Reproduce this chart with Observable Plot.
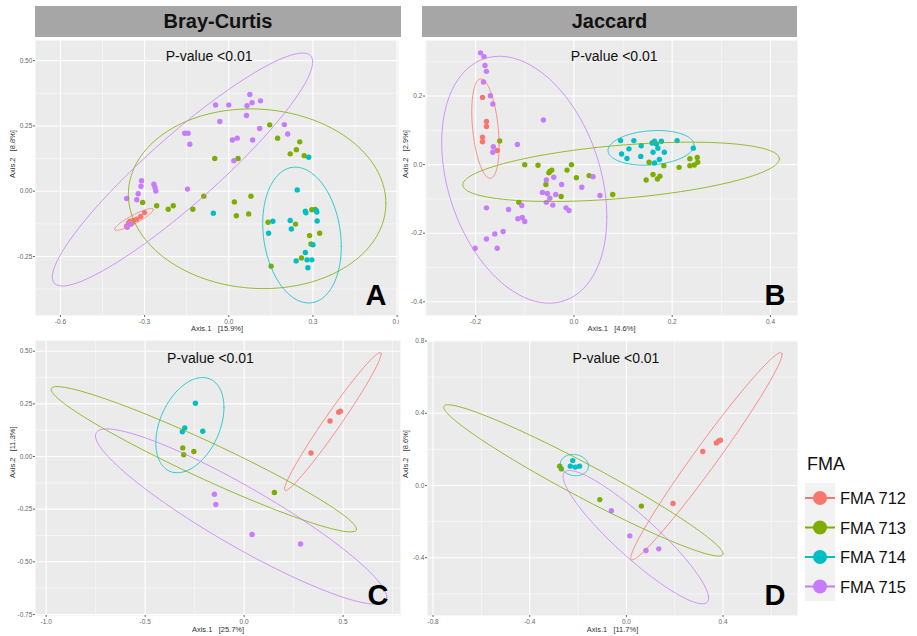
<!DOCTYPE html>
<html><head><meta charset="utf-8">
<script src="https://cdn.jsdelivr.net/npm/d3@7"></script>
<script src="https://cdn.jsdelivr.net/npm/@observablehq/plot@0.6"></script>
<style>
body{margin:0;background:#fff;font-family:"Liberation Sans",Arial,sans-serif;}
#root{position:relative;width:917px;height:636px;overflow:hidden;background:#fff;}
.pane{position:absolute;overflow:hidden;background:#fff;}
.strip{position:absolute;background:#A6A6A6;color:#111;font-weight:bold;font-size:20px;text-align:center;line-height:31px;height:31px;}
.lg{position:absolute;white-space:nowrap;color:#111;}
</style></head><body><div id="root"></div>
<script>
// ---------- categories ----------
const groups = ["FMA 712", "FMA 713", "FMA 714", "FMA 715"];
const colors = ["#F8766D", "#7CAE00", "#00BFC4", "#C77CFF"];
const stripTitles = ["Bray-Curtis", "Jaccard"];
const panelLetters = ["A", "B", "C", "D"];
const pText = "P-value <0.01";
const xTitles = ["Axis.1   [15.9%]", "Axis.1   [4.6%]", "Axis.1   [25.7%]", "Axis.1   [11.7%]"];
const yTitles = ["Axis.2   [8.8%]", "Axis.2   [2.9%]", "Axis.2   [11.3%]", "Axis.2   [8.6%]"];

// ---------- Panel A (Bray-Curtis, top) ----------
const a712 = [[-0.300,-0.082],[-0.314,-0.097],[-0.328,-0.107],[-0.340,-0.112],[-0.352,-0.115],[-0.344,-0.120],[-0.357,-0.122],[-0.364,-0.133]];
const a713 = [[0.146,0.254],[0.174,0.203],[0.253,0.189],[0.219,0.143],[0.241,0.159],[0.269,0.136],[-0.050,0.125],[0.033,0.125],
  [-0.307,-0.043],[-0.257,-0.056],[-0.216,-0.069],[-0.198,-0.056],[-0.128,-0.069],[-0.089,-0.019],[0.020,-0.041],[0.079,-0.019],
  [0.027,-0.094],[0.071,-0.087],[0.140,-0.119],[0.238,-0.126],[0.288,-0.170],[0.296,-0.071],[0.308,-0.070],[0.293,-0.202],
  [0.324,-0.161],[0.151,-0.287],[0.259,-0.256]];
const a714 = [[0.285,0.130],[0.244,0.005],[0.273,-0.077],[0.275,-0.083],[0.312,-0.074],[0.314,-0.080],[0.315,-0.114],[0.157,-0.115],
  [0.219,-0.112],[0.223,-0.145],[0.142,-0.161],[0.300,-0.205],[0.273,-0.235],[0.240,-0.267],[0.279,-0.263],[0.296,-0.263],
  [0.282,-0.293],[-0.055,-0.084]];
const a715 = [[-0.047,0.330],[0.000,0.330],[0.075,0.370],[0.065,0.327],[0.083,0.339],[0.113,0.346],[0.063,0.290],[-0.032,0.267],
  [-0.157,0.222],[-0.145,0.222],[-0.139,0.180],[0.013,0.196],[0.030,0.203],[0.085,0.196],[0.110,0.240],[0.198,0.255],
  [0.210,0.219],[0.018,0.117],[-0.311,0.040],[-0.313,0.019],[-0.323,-0.010],[-0.328,-0.033],[-0.364,-0.028],[-0.267,0.027],
  [-0.263,0.014],[-0.260,0.001],[-0.147,0.008],[-0.362,-0.138],[-0.356,-0.128],[-0.348,-0.126]];
// ellipse: group, centre x, centre y, half-width x, half-height y, correlation
const aEllipses = [["FMA 712",-0.338,-0.108,0.069,0.042,0.90],["FMA 713",0.101,-0.029,0.459,0.344,-0.05],
  ["FMA 714",0.261,-0.168,0.140,0.260,-0.17],["FMA 715",-0.165,0.083,0.464,0.446,0.923]];

// ---------- Panel B (Jaccard, top) ----------
const b712 = [[-0.186,0.196],[-0.178,0.126],[-0.178,0.111],[-0.186,0.080],[-0.186,0.067],[-0.156,0.041]];
const b713 = [[-0.151,0.069],[-0.100,0.000],[-0.073,-0.002],[-0.051,-0.024],[-0.045,-0.016],[-0.049,-0.020],[-0.014,-0.016],
  [-0.005,0.000],[0.005,-0.038],[0.031,-0.032],[-0.057,-0.058],[-0.026,-0.093],[0.079,-0.087],[-0.112,-0.110],[0.153,0.007],
  [0.183,-0.003],[0.214,-0.008],[0.236,0.017],[0.251,0.021],[0.252,0.007],[0.236,-0.003],[0.245,-0.001],[0.161,-0.029],
  [0.147,-0.045],[0.170,-0.042],[0.175,-0.034]];
const b714 = [[0.095,0.070],[0.122,0.070],[0.112,0.046],[0.137,0.055],[0.097,0.031],[0.108,0.018],[0.136,0.024],[0.159,0.063],
  [0.164,0.068],[0.168,0.060],[0.178,0.068],[0.161,0.036],[0.171,0.048],[0.184,0.036],[0.174,0.015],[0.164,0.005],
  [0.210,0.070],[0.243,0.048]];
const b715 = [[-0.190,0.326],[-0.183,0.315],[-0.181,0.289],[-0.178,0.272],[-0.184,0.241],[-0.170,0.201],[-0.165,0.177],
  [-0.062,0.130],[-0.115,0.059],[-0.164,0.052],[-0.165,0.036],[-0.041,-0.037],[-0.056,-0.045],[-0.025,-0.058],[0.016,-0.066],
  [0.039,-0.035],[-0.064,-0.081],[-0.054,-0.084],[-0.037,-0.087],[-0.049,-0.098],[-0.056,-0.110],[-0.043,-0.118],
  [-0.016,-0.126],[-0.010,-0.134],[0.053,-0.090],[-0.133,-0.131],[-0.106,-0.119],[-0.114,-0.158],[-0.105,-0.154],
  [-0.100,-0.166],[-0.144,-0.195],[-0.178,-0.126],[-0.178,-0.217],[-0.161,-0.202],[-0.156,-0.244],[-0.201,-0.244]];
const bEllipses = [["FMA 712",-0.180,0.105,0.0278,0.145,-0.341],["FMA 713",0.096,-0.021,0.322,0.0865,0.438],
  ["FMA 714",0.157,0.049,0.0875,0.0505,0.154],["FMA 715",-0.101,-0.044,0.168,0.360,-0.302]];

// ---------- Panel C (Bray-Curtis, bottom) ----------
const c712 = [[0.338,0.017],[0.434,0.169],[0.478,0.210],[0.486,0.215]];
const c713 = [[-0.310,0.041],[-0.305,0.009],[-0.254,0.024],[0.153,-0.171]];
const c714 = [[-0.246,0.253],[-0.300,0.136],[-0.312,0.118],[-0.209,0.120]];
const c715 = [[-0.150,-0.179],[-0.143,-0.228],[0.040,-0.370],[0.285,-0.415]];
const cEllipses = [["FMA 712",0.448,0.166,0.244,0.328,0.979],["FMA 713",-0.204,-0.013,0.771,0.345,-0.961],
  ["FMA 714",-0.274,0.149,0.172,0.226,0.373],["FMA 715",-0.015,-0.285,0.736,0.416,-0.922]];

// ---------- Panel D (Jaccard, bottom) ----------
const d712 = [[0.316,0.188],[0.372,0.236],[0.382,0.246],[0.389,0.251],[0.193,-0.100]];
const d713 = [[-0.276,0.107],[-0.269,0.092],[-0.110,-0.078],[0.062,-0.114]];
const d714 = [[-0.222,0.138],[-0.232,0.107],[-0.211,0.102],[-0.194,0.107]];
const d715 = [[-0.062,-0.140],[0.014,-0.279],[0.081,-0.360],[0.134,-0.351]];
const dEllipses = [["FMA 712",0.331,0.162,0.313,0.574,0.982],["FMA 713",-0.178,0.028,0.578,0.419,-0.969],
  ["FMA 714",-0.215,0.113,0.058,0.059,-0.10],["FMA 715",0.039,-0.286,0.301,0.369,-0.913]];

// ---------- axis ticks ----------
const aXTicks = [-0.6,-0.3,0.0,0.3,0.6], aYTicks = [-0.25,0.0,0.25,0.5];
const aXMinor = [-0.45,-0.15,0.15,0.45], aYMinor = [-0.375,-0.125,0.125,0.375];
const bXTicks = [-0.2,0.0,0.2,0.4], bYTicks = [-0.4,-0.2,0.0,0.2];
const bXMinor = [-0.3,-0.1,0.1,0.3], bYMinor = [-0.3,-0.1,0.1,0.3];
const cXTicks = [-1.0,-0.5,0.0,0.5], cYTicks = [-0.75,-0.5,-0.25,0.0,0.25,0.5];
const cXMinor = [-0.75,-0.25,0.25,0.75], cYMinor = [-0.625,-0.375,-0.125,0.125,0.375];
const dXTicks = [-0.8,-0.4,0.0,0.4], dYTicks = [-0.4,0.0,0.4,0.8];
const dXMinor = [-0.6,-0.2,0.2,0.6], dYMinor = [-0.6,-0.2,0.2,0.6];

// ---------- helpers ----------
const FONT = '"Liberation Sans", Arial, sans-serif';
function ellipsePath(e, id) {
  const [g, cx, cy, rx, ry, rho] = e;
  const s = Math.sqrt(1 - rho * rho);
  return d3.range(0, 181).map(i => {
    const t = i / 180 * 2 * Math.PI;
    return {id, g, x: cx + rx * Math.cos(t), y: cy + ry * (rho * Math.cos(t) + s * Math.sin(t))};
  });
}
function makePanel(p) {
  const pts = p.points.flatMap((arr, gi) => arr.map(([x, y]) => ({x, y, g: groups[gi]})));
  const ell = p.ellipses.flatMap((e, i) => ellipsePath(e, i));
  return Plot.plot({
    width: p.w, height: p.h,
    marginLeft: p.ml, marginRight: p.mr, marginTop: p.mt, marginBottom: p.mb,
    x: {domain: p.xd}, y: {domain: p.yd},
    color: {domain: groups, range: colors},
    style: {background: "white", fontFamily: FONT, overflow: "visible"},
    marks: [
      Plot.frame({fill: "#EBEBEB", stroke: null}),
      Plot.ruleX(p.xMinor, {stroke: "white", strokeWidth: 0.5}),
      Plot.ruleY(p.yMinor, {stroke: "white", strokeWidth: 0.5}),
      Plot.ruleX(p.xTicks, {stroke: "white", strokeWidth: 1.1}),
      Plot.ruleY(p.yTicks, {stroke: "white", strokeWidth: 1.1}),
      Plot.axisX({ticks: p.xTicks, tickFormat: d => d.toFixed(p.xDig), tickSize: 2, tickPadding: 1.5,
        fontSize: 6.5, color: "#666", label: null}),
      Plot.axisY({ticks: p.yTicks, tickFormat: d => d.toFixed(p.yDig), tickSize: 2, tickPadding: 1.2,
        fontSize: 6.5, color: "#666", label: null}),
      Plot.dot(pts, {x: "x", y: "y", fill: "g", r: 2.7}),
      Plot.line(ell, {x: "x", y: "y", z: "id", stroke: "g", strokeWidth: 0.8, curve: "linear"}),
      Plot.text([{x: p.px, y: p.py, t: pText}], {x: "x", y: "y", text: "t", fontSize: 14, fill: "#111"}),
      Plot.text([p.letter], {text: d => d, frameAnchor: "bottom-right", dx: -12, dy: -11, textAnchor: "end",
        lineAnchor: "bottom", fontSize: 29, fontWeight: "bold", fill: "#000"}),
      Plot.text([p.xTitle], {text: d => d, frameAnchor: "bottom", dy: p.xtDy, fontSize: 7.5, fill: "#333"}),
      Plot.text([p.yTitle], {text: d => d, frameAnchor: "left", dx: p.ytDx, rotate: -90, fontSize: 7.5, fill: "#333"})
    ]
  });
}
function addPane(root, left, top, w, h, node) {
  const div = document.createElement("div");
  div.className = "pane";
  Object.assign(div.style, {left: left + "px", top: top + "px", width: w + "px", height: h + "px"});
  div.appendChild(node);
  root.appendChild(div);
}

const root = document.getElementById("root");
const panels = [
  {left: 0, top: 38, w: 399, h: 296, ml: 35, mr: 1, mt: 2, mb: 19, xd: [-0.689, 0.605], yd: [-0.476, 0.577],
   xTicks: aXTicks, yTicks: aYTicks, xMinor: aXMinor, yMinor: aYMinor, xDig: 1, yDig: 2,
   points: [a712, a713, a714, a715], ellipses: aEllipses, px: -0.07, py: 0.515, letter: panelLetters[0],
   xTitle: xTitles[0], yTitle: yTitles[0], xtDy: 15, ytDx: -23},
  {left: 399, top: 38, w: 401, h: 296, ml: 26, mr: 3, mt: 2, mb: 19, xd: [-0.302, 0.455], yd: [-0.440, 0.362],
   xTicks: bXTicks, yTicks: bYTicks, xMinor: bXMinor, yMinor: bYMinor, xDig: 1, yDig: 1,
   points: [b712, b713, b714, b715], ellipses: bEllipses, px: 0.082, py: 0.315, letter: panelLetters[1],
   xTitle: xTitles[1], yTitle: yTitles[1], xtDy: 15, ytDx: -20},
  {left: 0, top: 334, w: 401, h: 302, ml: 35, mr: 1, mt: 6, mb: 21, xd: [-1.054, 0.790], yd: [-0.755, 0.551],
   xTicks: cXTicks, yTicks: cYTicks, xMinor: cXMinor, yMinor: cYMinor, xDig: 1, yDig: 2,
   points: [c712, c713, c714, c715], ellipses: cEllipses, px: -0.170, py: 0.467, letter: panelLetters[2],
   xTitle: xTitles[2], yTitle: yTitles[2], xtDy: 16, ytDx: -23},
  {left: 401, top: 334, w: 399, h: 302, ml: 26, mr: 3, mt: 6, mb: 21, xd: [-0.823, 0.708], yd: [-0.720, 0.803],
   xTicks: dXTicks, yTicks: dYTicks, xMinor: dXMinor, yMinor: dYMinor, xDig: 1, yDig: 1,
   points: [d712, d713, d714, d715], ellipses: dEllipses, px: -0.043, py: 0.705, letter: panelLetters[3],
   xTitle: xTitles[3], yTitle: yTitles[3], xtDy: 16, ytDx: -22}
];
panels.forEach(p => addPane(root, p.left, p.top, p.w, p.h, makePanel(p)));

// strips
[[35, 366, stripTitles[0]], [422, 375, stripTitles[1]]].forEach(([l, w, t]) => {
  const s = document.createElement("div");
  s.className = "strip";
  Object.assign(s.style, {left: l + "px", top: "6px", width: w + "px"});
  s.textContent = t;
  root.appendChild(s);
});

// legend
const lt = document.createElement("div");
lt.className = "lg";
Object.assign(lt.style, {left: "807px", top: "455px", fontSize: "18px", lineHeight: "18px"});
lt.textContent = "FMA";
root.appendChild(lt);
const svg = d3.select(root).append("svg").attr("width", 40).attr("height", 125)
  .style("position", "absolute").style("left", "805px").style("top", "483px");
svg.append("rect").attr("width", 30).attr("height", 118).attr("fill", "#F2F2F2");
groups.forEach((g, i) => {
  const cy = 15 + i * 29.5;
  svg.append("line").attr("x1", 0).attr("x2", 30).attr("y1", cy).attr("y2", cy).attr("stroke", colors[i]).attr("stroke-width", 2);
  svg.append("circle").attr("cx", 15).attr("cy", cy).attr("r", 7).attr("fill", colors[i]);
  const l = document.createElement("div");
  l.className = "lg";
  Object.assign(l.style, {left: "840px", top: (483 + cy - 9) + "px", fontSize: "16.5px", lineHeight: "18px"});
  l.textContent = g;
  root.appendChild(l);
});
</script></body></html>
